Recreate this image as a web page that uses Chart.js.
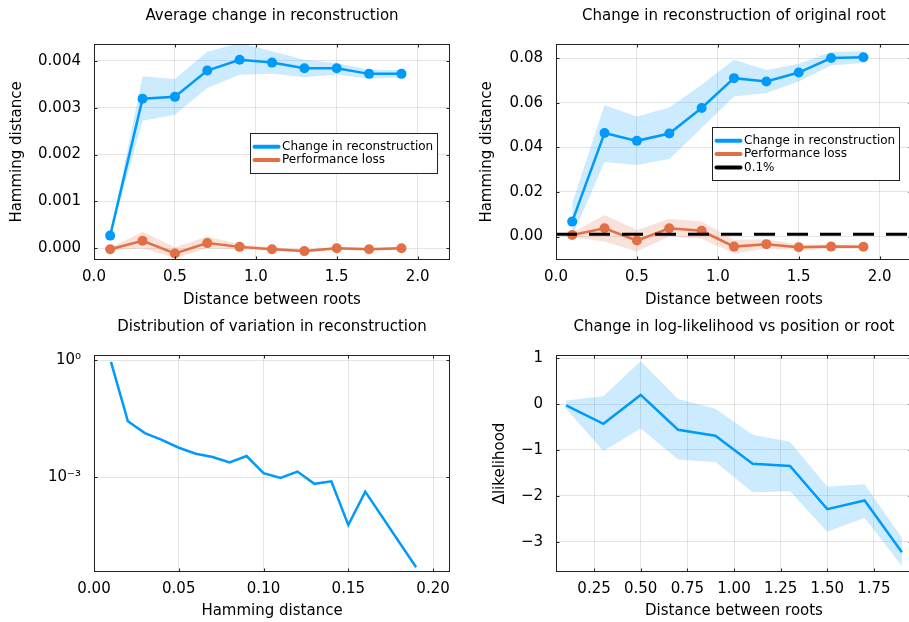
<!DOCTYPE html>
<html><head><meta charset="utf-8">
<script src="https://cdn.jsdelivr.net/npm/chart.js@4"></script>
<style>
html,body{margin:0;padding:0;width:909px;height:622px;overflow:hidden;background:#fff;}
canvas{position:absolute;}
</style></head><body>
<canvas id="c1" width="544" height="310" style="left:0px;top:0px;width:544px;height:310px"></canvas>
<canvas id="c2" width="568" height="310" style="left:450px;top:0px;width:568px;height:310px"></canvas>
<canvas id="c3" width="544" height="311" style="left:0px;top:311px;width:544px;height:311px"></canvas>
<canvas id="c4" width="568" height="311" style="left:450px;top:311px;width:568px;height:311px"></canvas>
<script>
// ---------- data ----------
const xDist = [0.1, 0.3, 0.5, 0.7, 0.9, 1.1, 1.3, 1.5, 1.7, 1.9];

// Panel 1: Average change in reconstruction
const avgChange     = [0.00027, 0.00319, 0.00323, 0.00379, 0.00402, 0.00396, 0.00384, 0.00384, 0.00372, 0.00372];
const avgChangeLow  = [0.00024, 0.00272, 0.00285, 0.00342, 0.00370, 0.00372, 0.00365, 0.00370, 0.00362, 0.00364];
const avgChangeHigh = [0.00030, 0.00367, 0.00361, 0.00419, 0.00438, 0.00420, 0.00402, 0.00395, 0.00381, 0.00380];
const avgLoss       = [-0.00002, 0.00016, -0.00011, 0.00011, 0.00003, -0.00002, -0.00006, 0.00000, -0.00002, 0.00000];
const avgLossLow    = [-0.00005, 0.00000, -0.00021, 0.00000, -0.00002, -0.00005, -0.00009, -0.00003, -0.00005, -0.00003];
const avgLossHigh   = [0.00001, 0.00035, 0.00002, 0.00025, 0.00008, 0.00002, -0.00003, 0.00003, 0.00001, 0.00003];

// Panel 2: Change in reconstruction of original root
const rootChange     = [0.0067, 0.0464, 0.0429, 0.0462, 0.0576, 0.0710, 0.0695, 0.0735, 0.0800, 0.0804];
const rootChangeLow  = [0.0000, 0.0334, 0.0321, 0.0348, 0.0486, 0.0628, 0.0643, 0.0695, 0.0767, 0.0778];
const rootChangeHigh = [0.0150, 0.0590, 0.0538, 0.0578, 0.0680, 0.0792, 0.0747, 0.0774, 0.0827, 0.0830];
const rootLoss       = [0.0007, 0.0037, -0.0018, 0.0037, 0.0026, -0.0045, -0.0034, -0.0048, -0.0045, -0.0046];
const rootLossLow    = [-0.0003, -0.0022, -0.0067, 0.0000, -0.0010, -0.0075, -0.0055, -0.0060, -0.0055, -0.0055];
const rootLossHigh   = [0.0017, 0.0097, 0.0030, 0.0079, 0.0067, -0.0015, -0.0012, -0.0035, -0.0035, -0.0037];
const threshold = 0.001;

// Panel 3: Distribution of variation in reconstruction
const hamBins = [0.01, 0.02, 0.03, 0.04, 0.05, 0.06, 0.07, 0.08, 0.09, 0.10, 0.11, 0.12, 0.13, 0.14, 0.15, 0.16, 0.19];
const hamFreq = [0.90, 0.027, 0.0135, 0.0091, 0.0057, 0.0040, 0.0033, 0.0024, 0.0035, 0.00127, 0.00096, 0.0014, 0.00068, 0.00079, 0.00006, 0.00043, 0.000005];

// Panel 4: Change in log-likelihood
const llChange = [-0.03, -0.43, 0.20, -0.56, -0.69, -1.30, -1.35, -2.29, -2.10, -3.23];
const llLow    = [-0.10, -1.02, -0.53, -1.21, -1.26, -1.92, -1.90, -2.78, -2.48, -3.53];
const llHigh   = [0.08, 0.17, 0.94, 0.11, -0.10, -0.67, -0.82, -1.80, -1.75, -2.92];

// axis ranges and ticks
const p1XRange = [0, 2.2],  p1YRange = [-0.00025, 0.004357];
const p2XRange = [0, 2.2],  p2YRange = [-0.0105, 0.0863];
const p3XRange = [0, 0.21], p3YRange = [3.77e-6, 1.345];
const p4XRange = [0.046, 1.954], p4YRange = [-3.66, 1.07];
const distTicks = [0, 0.5, 1.0, 1.5, 2.0];
const p1YTicks = [0, 0.001, 0.002, 0.003, 0.004];
const p2YTicks = [0, 0.02, 0.04, 0.06, 0.08];
const p3XTicks = [0, 0.05, 0.10, 0.15, 0.20];
const p3YTicks = [1e-3, 1];
const p4XTicks = [0.25, 0.50, 0.75, 1.00, 1.25, 1.50, 1.75];
const p4YTicks = [-3, -2, -1, 0, 1];

// ---------- styling ----------
const BLUE = '#009AFA', ORANGE = '#E26F46';
const BLUE_FILL = 'rgba(0,154,250,0.2)', ORANGE_FILL = 'rgba(227,111,71,0.2)';
const FONT = 'DejaVu Sans';
Chart.defaults.font.family = FONT;
Chart.defaults.color = '#000';

const pts = (xs, ys) => xs.map((x, i) => ({x: x, y: ys[i]}));

const framePlugin = {
  id: 'frame',
  afterDatasetsDraw(chart) {
    const {ctx, chartArea: a, scales} = chart;
    ctx.save();
    ctx.strokeStyle = '#222';
    ctx.lineWidth = 1;
    const L = Math.round(a.left) + 0.5, R = Math.round(a.right) - 0.5;
    const T = Math.round(a.top) + 0.5, B = Math.round(a.bottom) - 0.5;
    ctx.strokeRect(L, T, R - L, B - T);
    ctx.beginPath();
    scales.x.ticks.forEach(t => {
      const p = Math.round(scales.x.getPixelForValue(t.value)) + 0.5;
      ctx.moveTo(p, B); ctx.lineTo(p, B - 3);
      ctx.moveTo(p, T); ctx.lineTo(p, T + 3);
    });
    scales.y.ticks.forEach(t => {
      const p = Math.round(scales.y.getPixelForValue(t.value)) + 0.5;
      ctx.moveTo(L, p); ctx.lineTo(L + 3, p);
      ctx.moveTo(R, p); ctx.lineTo(R - 3, p);
    });
    ctx.stroke();
    ctx.restore();
  }
};

const boxLegendPlugin = {
  id: 'boxLegend',
  afterDatasetsDraw(chart, args, opts) {
    if (!opts || !opts.show) return;
    const {ctx, chartArea: a} = chart;
    const items = chart.data.datasets.filter(d => d.inLegend);
    ctx.save();
    ctx.font = '12px "' + FONT + '"';
    const textW = Math.max(...items.map(d => ctx.measureText(d.label).width));
    const rowH = 13.3;
    const x0 = Math.round(a.left + opts.fx * (a.right - a.left)) + 0.5;
    const y0 = Math.round(a.top + opts.fy * (a.bottom - a.top)) + 0.5;
    const w = Math.round(2 + 28 + 1.5 + textW + 4);
    const h = Math.round(rowH * (items.length + 1));
    ctx.fillStyle = '#fff';
    ctx.fillRect(x0, y0, w, h);
    ctx.strokeStyle = '#222';
    ctx.lineWidth = 1;
    ctx.strokeRect(x0, y0, w, h);
    items.forEach((d, i) => {
      const yy = y0 + rowH * (i + 1);
      ctx.beginPath();
      ctx.strokeStyle = d.borderColor;
      ctx.lineWidth = 4;
      ctx.lineCap = 'round';
      ctx.moveTo(x0 + 4, yy); ctx.lineTo(x0 + 28, yy);
      ctx.stroke();
      ctx.fillStyle = '#000';
      ctx.textBaseline = 'middle';
      ctx.textAlign = 'left';
      ctx.fillText(d.label, x0 + 31.5, yy);
    });
    ctx.restore();
  }
};

function xScale(range, ticks, fmt, titleText, titlePadBottom) {
  return {
    type: 'linear', min: range[0], max: range[1],
    afterBuildTicks: s => { s.ticks = ticks.map(v => ({value: v})); },
    afterFit: s => { s.height = 50; },
    grid: {color: 'rgba(0,0,0,0.1)', lineWidth: 1, drawTicks: false},
    border: {display: false},
    ticks: {padding: 8, autoSkip: false, maxRotation: 0, color: '#000',
            font: {family: FONT, size: 15}, callback: v => fmt(v)},
    title: {display: true, text: titleText, color: '#000',
            font: {family: FONT, size: 15, lineHeight: '18px'},
            padding: {top: 0, bottom: titlePadBottom}}
  };
}
function yScale(type, range, ticks, fmt, width, titleText, titlePadTop) {
  return {
    type: type, min: range[0], max: range[1],
    afterBuildTicks: s => { s.ticks = ticks.map(v => ({value: v})); },
    afterFit: s => { s.width = width; },
    grid: {color: 'rgba(0,0,0,0.1)', lineWidth: 1, drawTicks: false},
    border: {display: false},
    ticks: {padding: 13, autoSkip: false, color: '#000',
            font: {family: FONT, size: 15}, callback: v => fmt(v)},
    title: {display: !!titleText, text: titleText || '', color: '#000',
            font: {family: FONT, size: 15, lineHeight: '18px'},
            padding: {top: titlePadTop, bottom: 0}}
  };
}
function baseOptions(titleText, padRight, titleTop, titleBottom, scales, legendOpts) {
  return {
    responsive: false, animation: false, events: [],
    layout: {padding: {left: 0, right: padRight, top: 0, bottom: 0}},
    plugins: {
      legend: {display: false}, tooltip: {enabled: false},
      title: {display: true, fullSize: false, text: titleText, color: '#000',
              font: {family: FONT, size: 15, weight: 'normal', lineHeight: '18px'},
              padding: {top: titleTop, bottom: titleBottom}},
      boxLegend: legendOpts || {show: false}
    },
    scales: scales
  };
}
const bandDs = (ys, color, order, fillTarget) => ({
  data: pts(xDist, ys), borderColor: 'rgba(0,0,0,0)', borderWidth: 0,
  pointRadius: 0, backgroundColor: color, fill: fillTarget, order: order, tension: 0
});
const lineDs = (label, ys, color, order, radius, inLegend) => ({
  label: label, inLegend: inLegend, data: pts(xDist, ys), borderColor: color, backgroundColor: color,
  borderWidth: 2.5, pointRadius: radius, pointBorderWidth: 0, pointBackgroundColor: color,
  fill: false, order: order, tension: 0
});

const fmt3 = v => v.toFixed(3), fmt2 = v => v.toFixed(2), fmt1 = v => v.toFixed(1);
const fmtLog = v => (v >= 1 ? '10\u2070' : '10\u207B\u00B3');
const fmtMinus = v => (v < 0 ? '\u2212' + Math.abs(v) : String(v));

// Panel 1
new Chart(document.getElementById('c1'), {
  type: 'line',
  data: {datasets: [
    bandDs(avgChangeHigh, BLUE_FILL, 6, '+1'),
    bandDs(avgChangeLow, BLUE_FILL, 6, false),
    lineDs('Change in reconstruction', avgChange, BLUE, 5, 5, true),
    bandDs(avgLossHigh, ORANGE_FILL, 4, '+1'),
    bandDs(avgLossLow, ORANGE_FILL, 4, false),
    lineDs('Performance loss', avgLoss, ORANGE, 3, 5, true)
  ]},
  options: baseOptions('Average change in reconstruction', 94, 7, 19, {
    x: xScale(p1XRange, distTicks, fmt1, 'Distance between roots', 1),
    y: yScale('linear', p1YRange, p1YTicks, fmt3, 94, 'Hamming distance', 8)
  }, {show: true, fx: 0.437, fy: 0.413}),
  plugins: [framePlugin, boxLegendPlugin]
});

// Panel 2
new Chart(document.getElementById('c2'), {
  type: 'line',
  data: {datasets: [
    bandDs(rootChangeHigh, BLUE_FILL, 6, '+1'),
    bandDs(rootChangeLow, BLUE_FILL, 6, false),
    lineDs('Change in reconstruction', rootChange, BLUE, 5, 5, true),
    bandDs(rootLossHigh, ORANGE_FILL, 4, '+1'),
    bandDs(rootLossLow, ORANGE_FILL, 4, false),
    lineDs('Performance loss', rootLoss, ORANGE, 3, 5, true),
    {label: '0.1%', inLegend: true, data: p2XRange.map(x => ({x: x, y: threshold})),
     borderColor: '#000', backgroundColor: '#000', borderWidth: 3, borderDash: [21, 12],
     pointRadius: 0, fill: false, order: 1}
  ]},
  options: baseOptions('Change in reconstruction of original root', 106, 7, 19, {
    x: xScale(p2XRange, distTicks, fmt1, 'Distance between roots', 1),
    y: yScale('linear', p2YRange, p2YTicks, fmt2, 106, 'Hamming distance', 28)
  }, {show: true, fx: 0.437, fy: 0.383}),
  plugins: [framePlugin, boxLegendPlugin]
});

// Panel 3
new Chart(document.getElementById('c3'), {
  type: 'line',
  data: {datasets: [
    {label: 'Distribution', data: pts(hamBins, hamFreq), borderColor: BLUE, backgroundColor: BLUE,
     borderWidth: 2.5, pointRadius: 0, fill: false, tension: 0}
  ]},
  options: baseOptions('Distribution of variation in reconstruction', 94, 7, 19, {
    x: xScale(p3XRange, p3XTicks, fmt2, 'Hamming distance', 2),
    y: yScale('logarithmic', p3YRange, p3YTicks, fmtLog, 94, '', 0)
  }),
  plugins: [framePlugin]
});

// Panel 4
new Chart(document.getElementById('c4'), {
  type: 'line',
  data: {datasets: [
    bandDs(llHigh, BLUE_FILL, 6, '+1'),
    bandDs(llLow, BLUE_FILL, 6, false),
    lineDs('\u0394likelihood', llChange, BLUE, 5, 0, false)
  ]},
  options: baseOptions('Change in log-likelihood vs position or root', 106, 7, 19, {
    x: xScale(p4XRange, p4XTicks, fmt2, 'Distance between roots', 2),
    y: yScale('linear', p4YRange, p4YTicks, fmtMinus, 106, '\u0394likelihood', 41)
  }),
  plugins: [framePlugin]
});
</script>
</body></html>
